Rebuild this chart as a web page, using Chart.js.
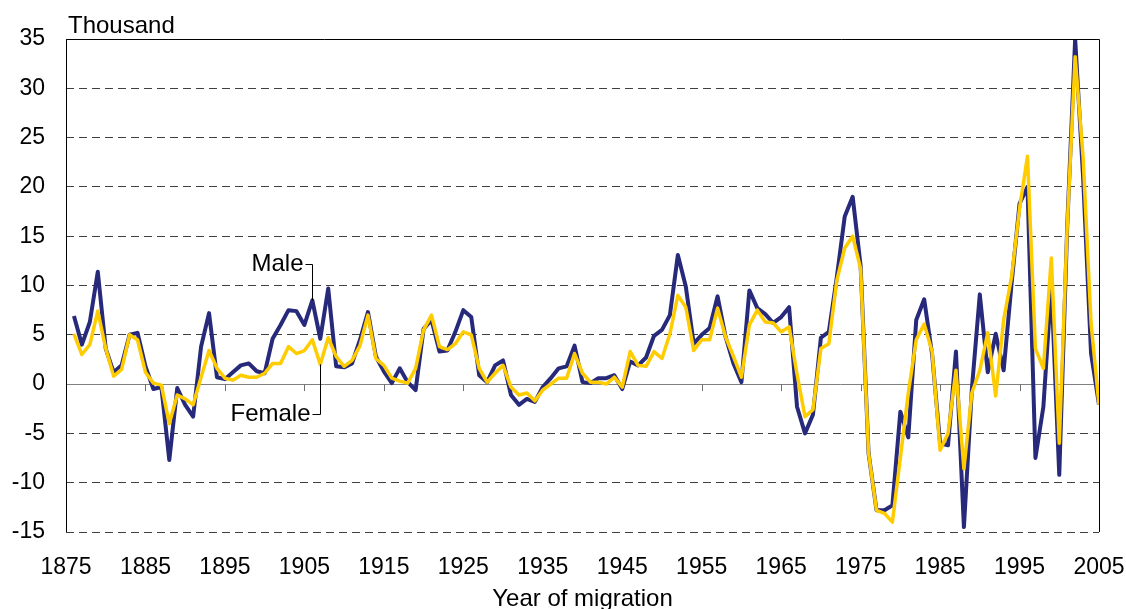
<!DOCTYPE html>
<html>
<head>
<meta charset="utf-8">
<script src="https://cdn.jsdelivr.net/npm/chart.js@4/dist/chart.umd.min.js"></script>
<style>
  html, body { margin: 0; padding: 0; background: #fff; }
  #wrap { width: 1126px; height: 609px; }
</style>
</head>
<body>
<div id="wrap"><canvas id="chart" width="1126" height="609"></canvas></div>
<script>
// net migration by year of migration, thousands (1876 - 2005)
const firstYear = 1876;
const male = [
  6.9, 4.0, 6.3, 11.4, 3.6, 1.2, 1.9, 5.0, 5.2, 1.8,
  -0.5, -0.3, -7.7, -0.4, -2.1, -3.3, 3.8, 7.2, 0.7, 0.5,
  1.2, 1.9, 2.1, 1.3, 1.1, 4.6, 6.0, 7.5, 7.4, 6.0,
  8.5, 4.6, 9.7, 1.8, 1.7, 2.1, 4.5, 7.3, 2.8, 1.3,
  0.1, 1.6, 0.2, -0.6, 5.6, 6.5, 3.3, 3.4, 5.3, 7.5,
  6.8, 0.9, 0.2, 1.9, 2.4, -1.1, -2.1, -1.5, -1.8, -0.3,
  0.6, 1.6, 1.8, 3.9, 0.2, 0.1, 0.6, 0.6, 0.9, -0.5,
  2.3, 1.9, 2.7, 4.9, 5.5, 7.0, 13.1, 9.9, 4.1, 5.0,
  5.7, 8.9, 4.8, 2.1, 0.2, 9.5, 7.7, 7.1, 6.2, 6.8,
  7.8, -2.3, -5.0, -3.1, 4.7, 5.3, 10.8, 17.0, 19.0, 12.0,
  -7.0, -12.8, -12.8, -12.3, -2.8, -5.4, 6.5, 8.6, 3.0, -6.0,
  -6.2, 3.3, -14.5, -0.5, 9.1, 1.2, 5.1, 1.4, 10.2, 18.3,
  20.0, -7.5, -2.3, 10.0, -9.2, 16.0, 35.0, 21.0, 3.1, -2.1
];
const female = [
  5.1, 3.0, 4.0, 7.4, 3.6, 0.8, 1.5, 5.0, 4.5, 1.2,
  0.1, -0.1, -4.0, -1.1, -1.5, -2.1, 0.7, 3.4, 1.6, 0.6,
  0.4, 0.9, 0.7, 0.7, 1.1, 2.1, 2.1, 3.8, 3.1, 3.4,
  4.5, 2.0, 4.7, 2.8, 1.8, 2.4, 3.9, 7.0, 2.6, 1.9,
  0.6, 0.3, 0.1, 1.6, 5.5, 7.0, 3.8, 3.5, 4.1, 5.3,
  5.0, 1.6, 0.2, 1.1, 1.9, -0.3, -1.1, -0.9, -1.7, -0.6,
  0.0, 0.6, 0.6, 3.1, 1.1, 0.2, 0.2, 0.0, 0.7, -0.3,
  3.3, 1.9, 1.8, 3.3, 2.6, 5.1, 9.0, 7.8, 3.4, 4.5,
  4.5, 7.7, 4.8, 2.8, 0.7, 6.0, 7.5, 6.3, 6.2, 5.3,
  5.8, 1.0, -3.3, -2.6, 3.6, 4.1, 10.5, 13.8, 15.0, 11.7,
  -7.0, -12.8, -13.1, -14.0, -7.5, -0.9, 4.5, 6.1, 3.3, -6.7,
  -5.0, 1.4, -8.6, -0.9, 1.4, 5.2, -1.2, 6.5, 10.9, 17.8,
  23.1, 3.6, 1.6, 12.8, -6.0, 16.0, 33.2, 23.0, 6.2, -2.1
];
const xTicks = [1875, 1885, 1895, 1905, 1915, 1925, 1935, 1945, 1955, 1965, 1975, 1985, 1995, 2005];
const yTicks = [-15, -10, -5, 0, 5, 10, 15, 20, 25, 30, 35];

// series labels: the year the leader line points at, and the height of the text
const maleLabel = { year: 1906, at: 12.2 };
const femaleLabel = { year: 1907, at: -3.0 };

const NAVY = '#27297a';
const GOLD = '#ffcc00';
const FONT = "'Liberation Sans', Arial, sans-serif";

const toPoints = vals => vals.map((v, i) => ({ x: firstYear + i, y: v }));

const extras = {
  id: 'extras',
  beforeDatasetsDraw(chart) {
    const { ctx, scales: { x, y } } = chart;
    const y0 = y.getPixelForValue(0);
    ctx.save();
    ctx.strokeStyle = '#707070';
    ctx.lineWidth = 1;
    xTicks.slice(1, -1).forEach(v => {
      const px = Math.round(x.getPixelForValue(v)) + 0.5;
      ctx.beginPath();
      ctx.moveTo(px, y0);
      ctx.lineTo(px, y0 + 7);
      ctx.stroke();
    });
    ctx.restore();
  },
  afterDatasetsDraw(chart) {
    const { ctx, chartArea: a, scales: { x, y } } = chart;
    ctx.save();
    // plot box (bottom edge is the dashed -15 line)
    ctx.strokeStyle = '#000';
    ctx.lineWidth = 1;
    ctx.beginPath();
    ctx.moveTo(Math.round(a.left) + 0.5, Math.round(a.bottom));
    ctx.lineTo(Math.round(a.left) + 0.5, Math.round(a.top) + 0.5);
    ctx.lineTo(Math.round(a.right) + 0.5, Math.round(a.top) + 0.5);
    ctx.lineTo(Math.round(a.right) + 0.5, Math.round(a.bottom));
    ctx.stroke();

    ctx.fillStyle = '#000';
    ctx.font = '24px ' + FONT;
    ctx.textAlign = 'left';
    ctx.textBaseline = 'alphabetic';
    ctx.fillText('Thousand', a.left + 2, a.top - 6);
    ctx.textAlign = 'center';
    ctx.fillText('Year of migration', (a.left + a.right) / 2, 606);

    // leader lines to the series
    const i = maleLabel.year - firstYear;
    let px = Math.round(x.getPixelForValue(maleLabel.year)) + 0.5;
    let ly = Math.round(y.getPixelForValue(maleLabel.at)) + 0.5;
    ctx.beginPath();
    ctx.moveTo(px - 7, ly);
    ctx.lineTo(px, ly);
    ctx.lineTo(px, y.getPixelForValue(male[i]));
    ctx.stroke();
    ctx.textAlign = 'right';
    ctx.textBaseline = 'middle';
    ctx.fillText('Male', px - 9, ly);

    const j = femaleLabel.year - firstYear;
    px = Math.round(x.getPixelForValue(femaleLabel.year)) + 0.5;
    ly = Math.round(y.getPixelForValue(femaleLabel.at)) + 0.5;
    ctx.beginPath();
    ctx.moveTo(px - 8, ly);
    ctx.lineTo(px, ly);
    ctx.lineTo(px, y.getPixelForValue(female[j]));
    ctx.stroke();
    ctx.fillText('Female', px - 10, ly);
    ctx.restore();
  }
};

new Chart(document.getElementById('chart'), {
  type: 'line',
  data: {
    datasets: [
      {
        label: 'Female',
        data: toPoints(female),
        borderColor: GOLD,
        borderWidth: 3.5,
        pointRadius: 0,
        tension: 0,
        borderJoinStyle: 'round',
        order: 0
      },
      {
        label: 'Male',
        data: toPoints(male),
        borderColor: NAVY,
        borderWidth: 4,
        pointRadius: 0,
        tension: 0,
        borderJoinStyle: 'round',
        order: 1
      }
    ]
  },
  options: {
    responsive: false,
    animation: false,
    layout: { padding: { top: 39, right: 27, bottom: 0, left: 0 } },
    plugins: {
      legend: { display: false },
      tooltip: { enabled: false }
    },
    scales: {
      x: {
        type: 'linear',
        min: 1875,
        max: 2005,
        afterBuildTicks: s => { s.ticks = xTicks.map(v => ({ value: v })); },
        afterFit: s => { s.height = 77; s.paddingLeft = 0; s.paddingRight = 0; },
        grid: { display: false, drawTicks: false },
        border: { display: false },
        ticks: {
          padding: 22,
          color: '#000',
          autoSkip: false,
          maxRotation: 0,
          font: { family: FONT, size: 23 },
          callback: v => String(v)
        }
      },
      y: {
        min: -15,
        max: 35,
        afterBuildTicks: s => { s.ticks = yTicks.map(v => ({ value: v })); },
        afterFit: s => { s.width = 66; s.paddingTop = 0; s.paddingBottom = 0; },
        grid: {
          drawTicks: false,
          lineWidth: 1,
          color: c => (c.tick && c.tick.value === 0 ? '#808080' : '#404040')
        },
        border: {
          display: false,
          dash: c => (c.tick && c.tick.value === 0 ? [] : [8, 5])
        },
        ticks: {
          padding: 21,
          color: '#000',
          font: { family: FONT, size: 23 },
          callback: v => String(v)
        }
      }
    }
  },
  plugins: [extras]
});
</script>
</body>
</html>
